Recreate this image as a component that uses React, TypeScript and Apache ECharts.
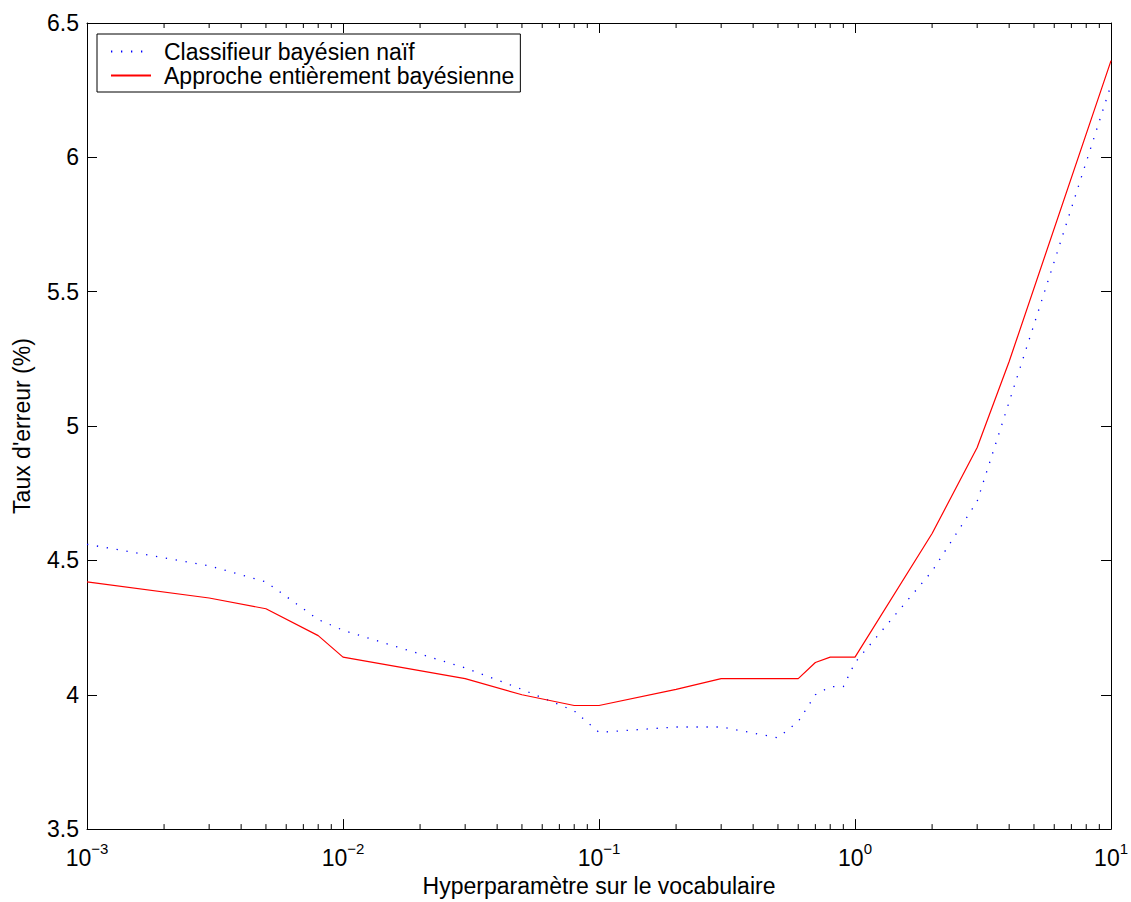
import React, { useEffect, useRef } from "react";
import * as echarts from "echarts";

const xValues = [0.001, 0.003, 0.005, 0.008, 0.01, 0.03, 0.05, 0.08, 0.1, 0.2, 0.3, 0.5, 0.6, 0.7, 0.8, 0.9, 1, 2, 3, 4, 10];
const naiveValues = [4.56, 4.48, 4.42, 4.28, 4.24, 4.10, 4.02, 3.94, 3.86, 3.88, 3.88, 3.84, 3.90, 4.00, 4.03, 4.03, 4.12, 4.46, 4.72, 5.09, 6.27];
const fullValues = [4.42, 4.36, 4.32, 4.22, 4.14, 4.06, 4.00, 3.96, 3.96, 4.02, 4.06, 4.06, 4.06, 4.12, 4.14, 4.14, 4.14, 4.60, 4.92, 5.24, 6.36];
const seriesNames = ["Classifieur bayésien naïf", "Approche entièrement bayésienne"];
const xAxisName = "Hyperparamètre sur le vocabulaire";
const yAxisName = "Taux d'erreur (%)";
const yMin = 3.5;
const yMax = 6.5;
const yInterval = 0.5;
const xMin = 0.001;
const xMax = 10;
const minorTickValues: number[] = [];
for (const d of [0.001, 0.01, 0.1, 1]) {
  for (const m of [2, 3, 4, 5, 6, 7, 8, 9]) minorTickValues.push(Number((d * m).toPrecision(3)));
}

const FONT = "Liberation Sans, Arial, Helvetica, sans-serif";
const FS = 23;

export default function App() {
  const ref = useRef<HTMLDivElement>(null);
  useEffect(() => {
    document.body.style.margin = "0";
    const chart = echarts.init(ref.current!, null, { renderer: "svg" });
    const axisLine = { show: true, lineStyle: { color: "#000", width: 1 } };
    chart.setOption({
      animation: false,
      backgroundColor: "#fff",
      textStyle: { fontFamily: FONT },
      grid: { left: 87, right: 16, top: 23, bottom: 68, containLabel: false },
      legend: {
        left: 97,
        top: 34,
        orient: "vertical",
        data: seriesNames,
        backgroundColor: "#fff",
        borderColor: "#000",
        borderWidth: 1,
        borderRadius: 0,
        padding: [6, 6, 5, 13],
        itemWidth: 40,
        itemHeight: 14,
        itemGap: 1,
        itemStyle: { opacity: 0 },
        textStyle: { fontFamily: FONT, fontSize: FS, color: "#000", lineHeight: 20, padding: [0, 0, 0, 8] },
      },
      xAxis: [
        {
          type: "log",
          logBase: 10,
          min: xMin,
          max: xMax,
          position: "bottom",
          name: xAxisName,
          nameLocation: "middle",
          nameGap: 42,
          nameTextStyle: { fontFamily: FONT, fontSize: FS, color: "#000" },
          axisLine,
          splitLine: { show: false },
          axisTick: { show: true, inside: true, length: 10, lineStyle: { color: "#000" } },
          axisLabel: {
            color: "#000",
            margin: 12,
            formatter: (v: number) => `{b|10}{s|${Math.round(Math.log10(v)) < 0 ? "−" : ""}${Math.abs(Math.round(Math.log10(v)))}}`,
            rich: {
              b: { fontFamily: FONT, fontSize: FS, color: "#000" },
              s: { fontFamily: FONT, fontSize: 15, color: "#000", padding: [0, 0, 18, 0] },
            },
          },
        },
        {
          type: "log",
          logBase: 10,
          min: xMin,
          max: xMax,
          position: "top",
          axisLine,
          splitLine: { show: false },
          axisTick: { show: true, inside: true, length: 10, lineStyle: { color: "#000" } },
          axisLabel: { show: false },
        },
      ],
      yAxis: [
        {
          type: "value",
          min: yMin,
          max: yMax,
          interval: yInterval,
          position: "left",
          name: yAxisName,
          nameLocation: "middle",
          nameGap: 54,
          nameTextStyle: { fontFamily: FONT, fontSize: FS, color: "#000" },
          axisLine,
          splitLine: { show: false },
          axisTick: { show: true, inside: true, length: 10, lineStyle: { color: "#000" } },
          axisLabel: { color: "#000", fontFamily: FONT, fontSize: FS, margin: 8 },
        },
        {
          type: "value",
          min: yMin,
          max: yMax,
          interval: yInterval,
          position: "right",
          axisLine,
          splitLine: { show: false },
          axisTick: { show: true, inside: true, length: 10, lineStyle: { color: "#000" } },
          axisLabel: { show: false },
        },
      ],
      series: [
        {
          name: seriesNames[0],
          type: "line",
          data: xValues.map((x, i) => [x, naiveValues[i]]),
          symbol: "none",
          lineStyle: { color: "#0000ff", width: 1.3, type: [1.3, 8.7] },
          itemStyle: { color: "#0000ff" },
          z: 3,
        },
        {
          name: seriesNames[1],
          type: "line",
          data: xValues.map((x, i) => [x, fullValues[i]]),
          symbol: "none",
          lineStyle: { color: "#ff0000", width: 1.2, type: "solid" },
          itemStyle: { color: "#ff0000" },
          z: 4,
        },
        {
          name: "minorTicks",
          type: "custom",
          silent: true,
          clip: false,
          data: minorTickValues.map((v) => [v, yMin]),
          renderItem: (params: any, api: any) => {
            const v = api.value(0);
            const b = api.coord([v, yMin]);
            const t = api.coord([v, yMax]);
            const style = { stroke: "#000", lineWidth: 1 };
            return {
              type: "group",
              children: [
                { type: "line", shape: { x1: b[0], y1: b[1], x2: b[0], y2: b[1] - 5 }, style },
                { type: "line", shape: { x1: t[0], y1: t[1], x2: t[0], y2: t[1] + 5 }, style },
              ],
            };
          },
        },
      ],
    });
    return () => chart.dispose();
  }, []);
  return <div ref={ref} style={{ position: "absolute", left: 0, top: 0, width: 1131, height: 902 }} />;
}
